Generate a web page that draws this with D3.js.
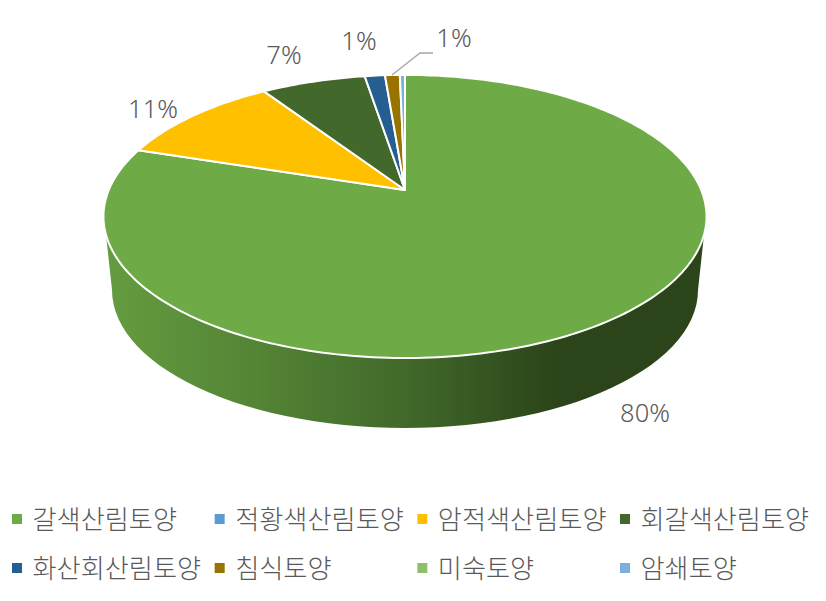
<!DOCTYPE html>
<html lang="ko"><head><meta charset="utf-8">
<script src="https://cdn.jsdelivr.net/npm/d3@7/dist/d3.min.js"></script>
<style>html,body{margin:0;padding:0;background:#fff}svg{display:block}
text{font-family:"Noto Sans CJK KR","Noto Sans",sans-serif;font-weight:300;fill:#595959}</style>
</head><body><svg id="c" width="826" height="601"></svg>
<script>
const categories = ["갈색산림토양","적황색산림토양","암적색산림토양","회갈색산림토양","화산회산림토양","침식토양","미숙토양","암쇄토양"];
const values = [80, 0, 10.75, 6.7, 1.3, 0.95, 0, 0.33];
const labels = ["80%","","11%","7%","1%","1%","",""];
const colors = ["#6EAB47","#5B9BD5","#FFC000","#43682B","#255E91","#997300","#8CC168","#7CAFDD"];

// layout
const apex = {x:405, y:190}, a = 296.2, b = 136.6, k = 0.187;
const rim = {cx:405, cy:216.5, rx:301.5, ry:141.5};
const base = {cx:405, cy:290, rx:293, ry:138};
const labelAt = {0:[645,412],2:[153,108],3:[284,54],4:[359,40],5:[454,37]};
const svg = d3.select("#c");

function proj(t){ // perspective image of the unit circle point at clockwise angle t
  const u = Math.sin(t), v = -Math.cos(t), d = 1 - k*v;
  return [apex.x + a*u/d, apex.y + b*v/d];
}
const defs = svg.append("defs");
const g = defs.append("linearGradient").attr("id","side").attr("gradientUnits","userSpaceOnUse")
  .attr("x1",105).attr("x2",707).attr("y1",0).attr("y2",0);
[[0,"#659C40"],[0.25,"#548435"],[0.5,"#41692A"],[0.75,"#2B4419"],[1,"#2B4419"]]
  .forEach(s=>g.append("stop").attr("offset",s[0]).attr("stop-color",s[1]));

// side wall
const lower = d3.range(0,181,3).map(deg=>{
  const r = deg*Math.PI/180;
  return [base.cx - base.rx*Math.cos(r), base.cy + base.ry*Math.sin(r)];
});
const line = d3.line();
svg.append("path")
  .attr("d", line([[rim.cx-rim.rx+0.5,rim.cy],...lower,[rim.cx+rim.rx-0.5,rim.cy]])+"Z")
  .attr("fill","url(#side)");

// top slices
const arcs = d3.pie().sort(null).value(d=>d)(values);
const color = d3.scaleOrdinal().domain(categories).range(colors);
svg.append("g").selectAll("path").data(arcs.filter(d=>d.value>0)).join("path")
  .attr("d",d=>{
    const n = Math.max(2,Math.ceil((d.endAngle-d.startAngle)/0.02));
    const pts = d3.range(n+1).map(i=>proj(d.startAngle+(d.endAngle-d.startAngle)*i/n));
    return line([[apex.x,apex.y],...pts])+"Z";
  })
  .attr("fill",(d,i)=>color(categories[d.index]))
  .attr("stroke","#fff").attr("stroke-width",2).attr("stroke-linejoin","round");

// leader
svg.append("path").attr("d",line([[392,75],[420,53],[433,53]]))
  .attr("fill","none").attr("stroke","#A6A6A6").attr("stroke-width",1.3);

// data labels
svg.append("g").selectAll("text").data(labels.map((t,i)=>({t,i})).filter(d=>d.t)).join("text")
  .attr("x",d=>labelAt[d.i][0]).attr("y",d=>labelAt[d.i][1])
  .attr("text-anchor","middle").attr("dominant-baseline","central")
  .style("font-family",'"Noto Sans",sans-serif').attr("font-size",25.5).text(d=>d.t);

// legend
const col = d3.scaleLinear().domain([0,3]).range([12,620]);
const row = d3.scaleLinear().domain([0,1]).range([519,568]);
const leg = svg.append("g").selectAll("g").data(categories).join("g")
  .attr("transform",(d,i)=>`translate(${col(i%4)},${row(Math.floor(i/4))})`);
leg.append("rect").attr("x",0).attr("y",-5).attr("width",10).attr("height",10).attr("fill",d=>color(d));
leg.append("text").attr("x",20.5).attr("y",-1).attr("dominant-baseline","central")
  .attr("font-size",26.2).text(d=>d);
</script></body></html>
